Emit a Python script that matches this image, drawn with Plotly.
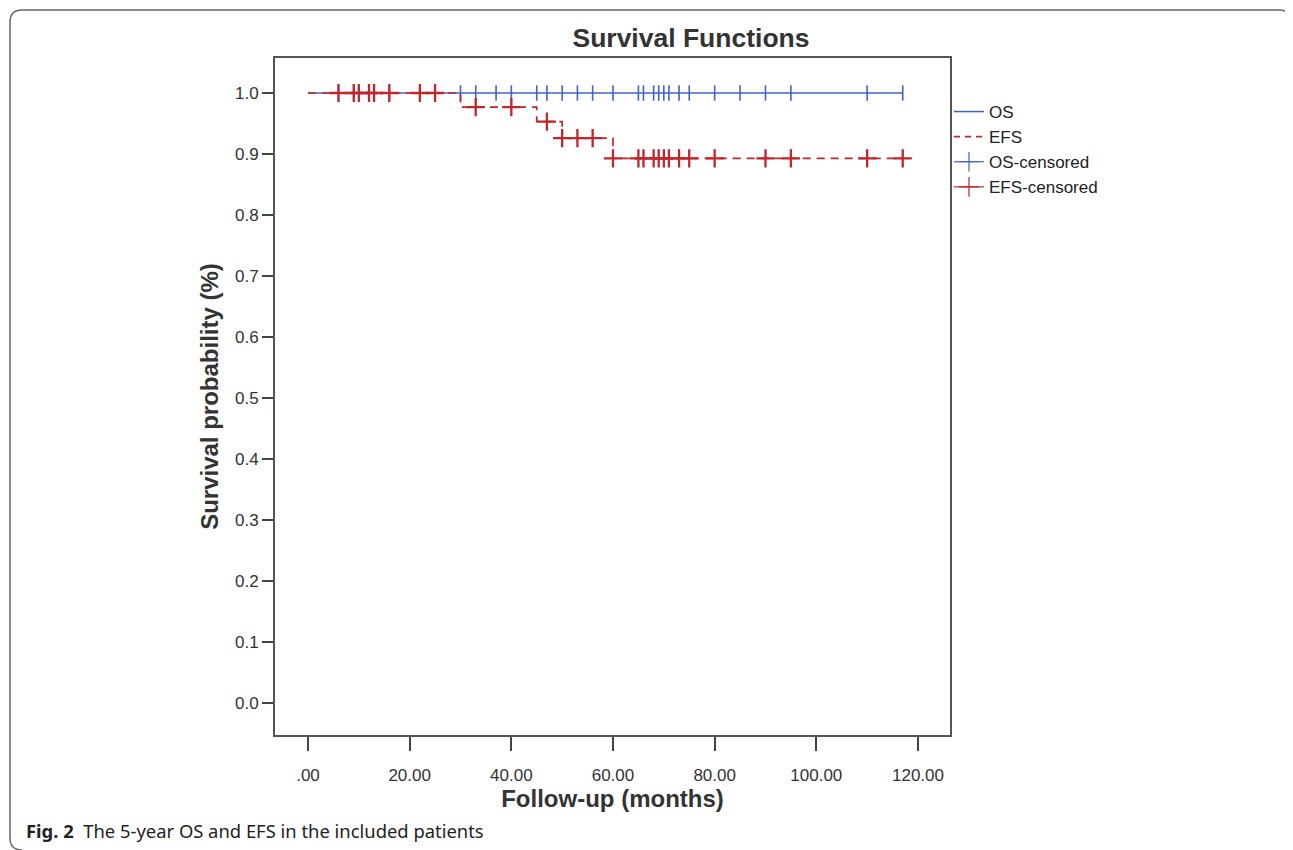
import plotly.graph_objects as go

# ---- data ----
os_time = [0, 117]
os_surv = [1.0, 1.0]
os_censored = [6, 9, 10, 12, 13, 16, 22, 25, 30, 33, 37, 40, 45, 47, 50, 53, 56,
               60, 65, 66, 68, 69, 70, 71, 73, 75, 80, 85, 90, 95, 110, 117]

efs_time = [0, 30, 45, 50, 60, 117]
efs_surv = [1.0, 0.977, 0.953, 0.926, 0.893, 0.893]
efs_censored = [6, 9, 10, 12, 13, 16, 22, 25, 33, 40, 47, 50, 53, 56,
                60, 65, 66, 68, 69, 70, 71, 73, 75, 80, 90, 95, 110, 117]

x_tickvals = [0, 20, 40, 60, 80, 100, 120]
x_ticktext = [".00", "20.00", "40.00", "60.00", "80.00", "100.00", "120.00"]
y_tickvals = [0.0, 0.1, 0.2, 0.3, 0.4, 0.5, 0.6, 0.7, 0.8, 0.9, 1.0]
legend_names = ["OS", "EFS", "OS-censored", "EFS-censored"]


def step_value(times, surv, t):
    v = surv[0]
    for ti, si in zip(times, surv):
        if ti <= t:
            v = si
    return v


efs_cens_y = [step_value(efs_time, efs_surv, t) for t in efs_censored]
os_cens_y = [step_value(os_time, os_surv, t) for t in os_censored]

BLUE = "#4163c4"
RED = "#c0262c"
FONT = "Liberation Sans, Arial, sans-serif"

# page body has an 8px margin in the viewer; compensate
OFF = 8
W, H = 1293 - OFF, 850 - OFF
L, R, T, B = 275, 950, 58, 735  # plot frame in reference pixels


def px(xp):
    return (xp - L) / (R - L)


def py(yp):
    return (B - yp) / (B - T)


fig = go.Figure()

fig.add_trace(go.Scatter(x=os_time, y=os_surv, mode="lines", line=dict(color=BLUE, width=1.5, shape="hv"),
                         showlegend=False, hoverinfo="skip"))
fig.add_trace(go.Scatter(x=os_censored, y=os_cens_y, mode="markers",
                         marker=dict(symbol="line-ns", size=11, line=dict(color=BLUE, width=1.6)),
                         showlegend=False))
fig.add_trace(go.Scatter(x=efs_time, y=efs_surv, mode="lines",
                         line=dict(color=RED, width=1.7, shape="hv", dash="8px,6px"),
                         showlegend=False, hoverinfo="skip"))
fig.add_trace(go.Scatter(x=efs_censored, y=efs_cens_y, mode="markers",
                         marker=dict(symbol="cross-thin", size=13, line=dict(color=RED, width=2.3)),
                         showlegend=False))

# legend entries
fig.add_trace(go.Scatter(x=[None], y=[None], mode="lines", name=legend_names[0],
                         line=dict(color=BLUE, width=1.5)))
fig.add_trace(go.Scatter(x=[None], y=[None], mode="lines", name=legend_names[1],
                         line=dict(color=RED, width=1.6, dash="6px,5px")))
fig.add_trace(go.Scatter(x=[None], y=[None], mode="lines+markers", name=legend_names[2],
                         line=dict(color=BLUE, width=1.2),
                         marker=dict(symbol="cross-thin", size=14, line=dict(color=BLUE, width=1.2))))
fig.add_trace(go.Scatter(x=[None], y=[None], mode="lines+markers", name=legend_names[3],
                         line=dict(color=RED, width=1.2),
                         marker=dict(symbol="cross-thin", size=14, line=dict(color=RED, width=1.2))))

# outer rounded border
border = (f"M {px(1291)},{py(22)} Q {px(1291)},{py(10)} {px(1279)},{py(10)} "
          f"L {px(22)},{py(10)} Q {px(10)},{py(10)} {px(10)},{py(22)} "
          f"L {px(10)},{py(838)} Q {px(10)},{py(850)} {px(22)},{py(850)}")

fig.update_layout(
    width=W, height=H,
    margin=dict(l=L - OFF, r=1293 - R, t=T - OFF, b=850 - B),
    paper_bgcolor="white", plot_bgcolor="white",
    font=dict(family=FONT, color="#333333", size=17),
    title=dict(text="<b>Survival Functions</b>", x=(691 - OFF) / W, xref="container", xanchor="center",
               y=1 - (38 - OFF) / H, yref="container", yanchor="middle",
               font=dict(family=FONT, size=26.5, color="#333333")),
    showlegend=True,
    legend=dict(x=px(949), xanchor="left", y=py(94), yanchor="top",
                traceorder="normal",
                font=dict(family=FONT, size=17, color="#222222"),
                bgcolor="rgba(0,0,0,0)", borderwidth=0, itemwidth=30),
    xaxis=dict(range=[-6.49, 126.3], tickvals=x_tickvals, ticktext=x_ticktext,
               ticks="outside", ticklen=14, tickwidth=1.5, tickcolor="#444444",
               ticklabelstandoff=10,
               showline=True, linecolor="#555555", linewidth=1.8, mirror=True,
               showgrid=False, zeroline=False,
               tickfont=dict(family=FONT, size=17, color="#333333"),
               title=dict(text="<b>Follow-up (months)</b>", standoff=4,
                          font=dict(family=FONT, size=24, color="#333333"))),
    yaxis=dict(range=[-0.0525, 1.0574], tickvals=y_tickvals, tickformat=".1f",
               ticks="outside", ticklen=11, tickwidth=1.5, tickcolor="#444444",
               showline=True, linecolor="#555555", linewidth=1.8, mirror=True,
               showgrid=False, zeroline=False,
               tickfont=dict(family=FONT, size=17, color="#333333"),
               title=dict(text="<b>Survival probability (%)</b>", standoff=10,
                          font=dict(family=FONT, size=24, color="#333333"))),
    shapes=[dict(type="path", path=border, xref="paper", yref="paper",
                 line=dict(color="#666666", width=1.5), layer="below")],
    annotations=[dict(text="<b>Fig. 2</b>  The 5-year OS and EFS in the included patients",
                      x=px(24), y=py(830), xref="paper", yref="paper", xanchor="left", yanchor="middle",
                      showarrow=False, font=dict(family="Noto Sans, Open Sans, sans-serif", size=18.4, color="#222222"))],
)

fig.write_html("out.html")
